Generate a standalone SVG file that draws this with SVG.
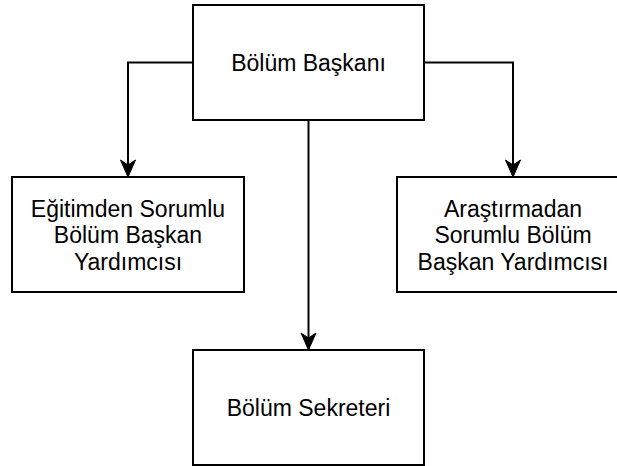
<svg xmlns="http://www.w3.org/2000/svg" width="617" height="466" viewBox="0 0 617 466">
<style>
.box{fill:#fff;stroke:#000;stroke-width:2}
.lbl{font-family:"Liberation Sans",Arial,sans-serif;font-size:23px;fill:#000;text-anchor:middle}
.edge{fill:none;stroke:#000;stroke-width:2}
</style>
<defs>
<marker id="arr" markerUnits="userSpaceOnUse" markerWidth="20" markerHeight="20" viewBox="-18 -9 20 18" refX="0" refY="0" orient="auto" overflow="visible">
<path d="M0 0 L-17 -7.5 L-12 0 L-17 7.5 Z" fill="#000" stroke="#000" stroke-width="1"/>
</marker>
</defs>
<rect width="617" height="466" fill="#fff"/>
<g id="connectors">
<path class="edge" d="M193 62.5 H128 V177" marker-end="url(#arr)"/>
<path class="edge" d="M424 62.5 H513 V177" marker-end="url(#arr)"/>
<path class="edge" d="M308.5 120 V350" marker-end="url(#arr)"/>
</g>
<g id="bolum-baskani">
<rect class="box" x="193" y="5" width="231" height="115"/>
<text class="lbl" x="308.5" y="70.5">Bölüm Başkanı</text>
</g>
<g id="egitim-yardimcisi">
<rect class="box" x="12" y="177" width="232" height="115"/>
<text class="lbl" x="128" y="216.5">Eğitimden Sorumlu</text>
<text class="lbl" x="128" y="243">Bölüm Başkan</text>
<text class="lbl" x="128" y="269.5">Yardımcısı</text>
</g>
<g id="arastirma-yardimcisi">
<rect class="box" x="397" y="177" width="232" height="115"/>
<text class="lbl" x="513" y="216.5">Araştırmadan</text>
<text class="lbl" x="513" y="243">Sorumlu Bölüm</text>
<text class="lbl" x="513" y="269.5">Başkan Yardımcısı</text>
</g>
<g id="bolum-sekreteri">
<rect class="box" x="193" y="350" width="231" height="115"/>
<text class="lbl" x="308.5" y="416">Bölüm Sekreteri</text>
</g>
</svg>
